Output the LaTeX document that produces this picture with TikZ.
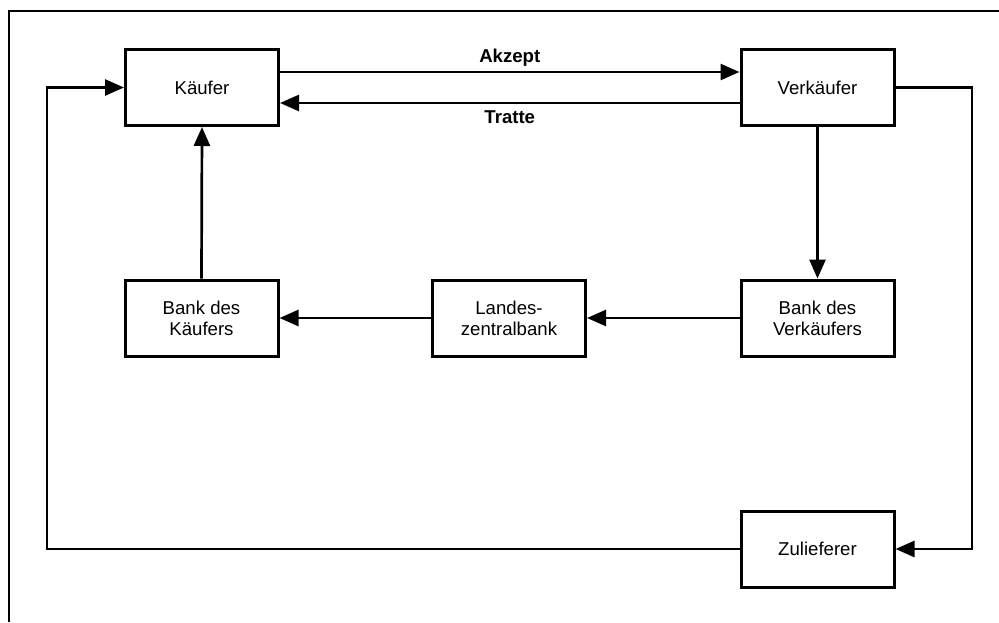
\documentclass[tikz,border=0pt]{standalone}
\usepackage{fontspec}
\setmainfont{Liberation Sans}
\usetikzlibrary{arrows.meta}
\begin{document}
\begin{tikzpicture}[x=1pt,y=-1pt,
  line width=2.7pt,
  box/.style={draw,line width=3pt,minimum width=153pt,minimum height=76pt,align=center,
    inner sep=2pt,font=\fontsize{18.6}{21}\selectfont},
  arr/.style={-{Triangle[length=19pt,width=16pt]},line join=miter},
  lbl/.style={font=\fontsize{18.6}{21}\selectfont\bfseries}]
  \useasboundingbox (0,0) rectangle (999,622);
  % outer frame (top and left edges)
  \draw (999,11) -- (9,11) -- (9,622);

  % parties
  \node[box] (kaeufer) at (202,87.5) {Käufer};
  \node[box] (verk) at (817.5,87.5) {Verkäufer};
  \node[box] (bankk) at (201.5,318) {Bank des\\Käufers};
  \node[box] (lzb) at (509,318) {Landes-\\zentralbank};
  \node[box] (bankv) at (817.5,318) {Bank des\\Verkäufers};
  \node[box] (zul) at (817.5,549) {Zulieferer};

  % bill of exchange
  \draw[arr] ([yshift=15.5pt]kaeufer.east) -- node[lbl,above=1pt]{Akzept} ([yshift=15.5pt]verk.west);
  \draw[arr] ([yshift=-15.5pt]verk.west) -- node[lbl,below=3pt]{Tratte} ([yshift=-15.5pt]kaeufer.east);

  % banking chain
  \draw[arr] (verk.south) -- (bankv.north);
  \draw[arr] (bankv.west) -- (lzb.east);
  \draw[arr] (lzb.west) -- (bankk.east);
  \draw[arr] (bankk.north) -- (kaeufer.south);

  % supplier loop
  \coordinate (rt) at (972,87.5);
  \coordinate (rb) at (972,549);
  \coordinate (lb) at (47,549);
  \coordinate (lt) at (47,87.5);
  \draw[arr] (verk.east) -- (rt) -- (rb) -- (zul.east);
  \draw[arr] (zul.west) -- (lb) -- (lt) -- (kaeufer.west);
\end{tikzpicture}
\end{document}
